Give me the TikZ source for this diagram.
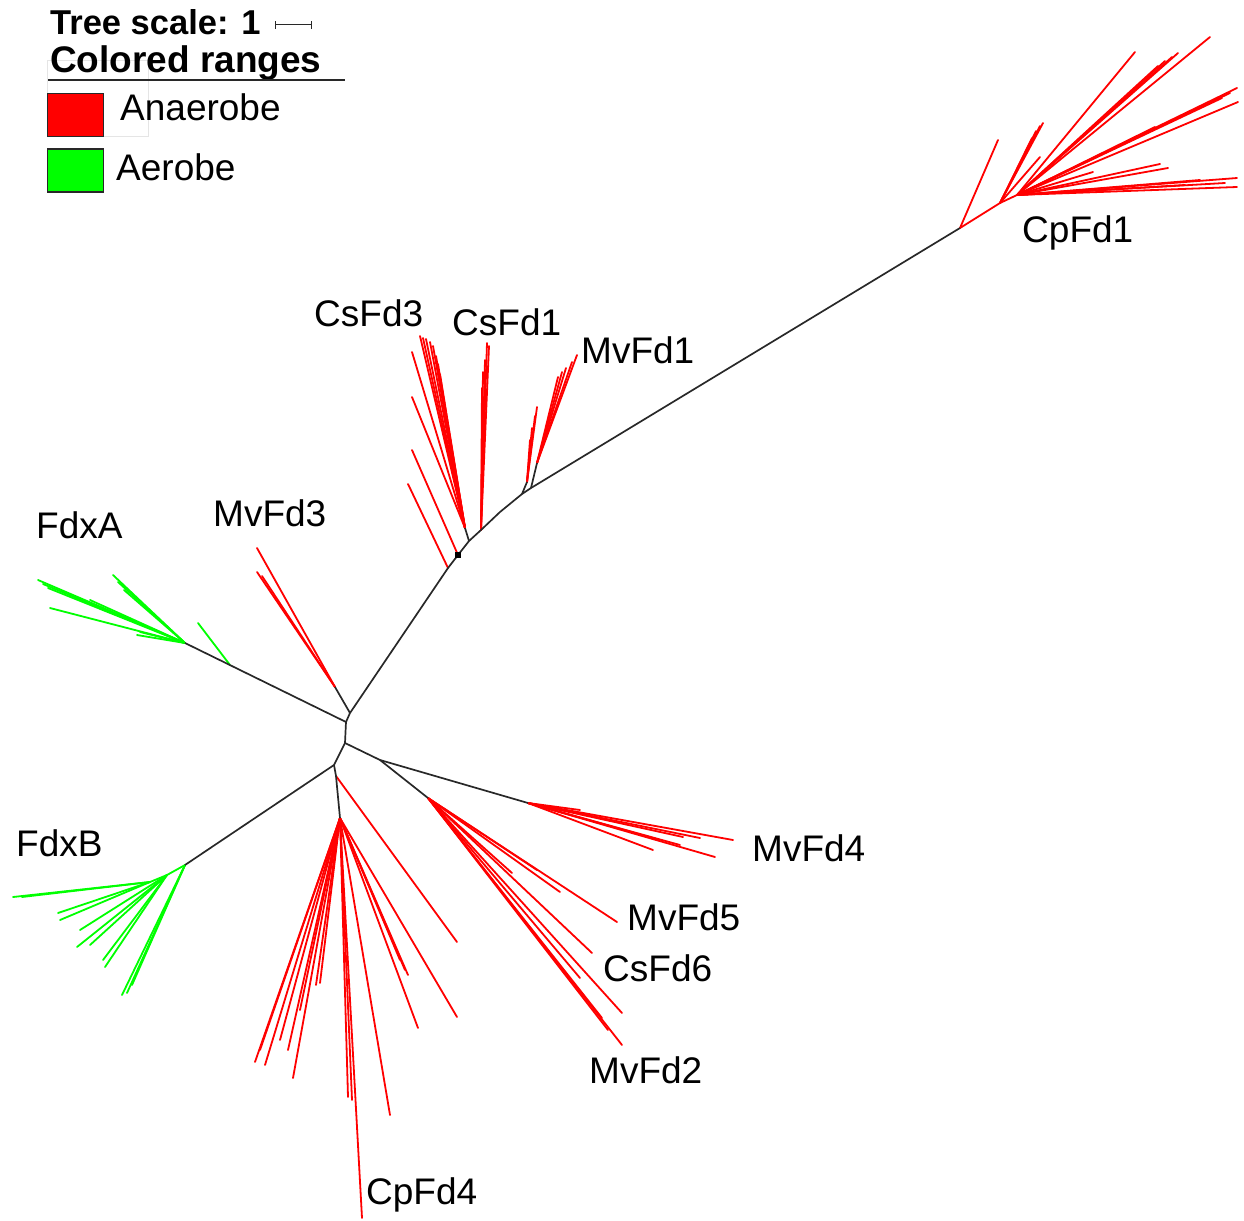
\documentclass[tikz,border=0pt]{standalone}
\usepackage{fontspec}
\setmainfont{Liberation Sans}
\usetikzlibrary{arrows}
\definecolor{anaerobe}{RGB}{255,0,0}
\definecolor{aerobe}{RGB}{0,255,0}
\definecolor{trunk}{RGB}{40,40,40}
\tikzstyle{branch} = [draw=trunk, line width=1.7pt, line join=round]
\tikzstyle{analeaf} = [draw=anaerobe, line width=1.8pt, line cap=round]
\tikzstyle{aeroleaf} = [draw=aerobe, line width=1.8pt, line cap=round]
\tikzstyle{cladelabel} = [anchor=base west, inner sep=0pt, font=\fontsize{37}{44}\selectfont]
\tikzstyle{legendtitle} = [anchor=base west, inner sep=0pt, font=\bfseries\fontsize{37}{44}\selectfont]
\tikzstyle{legendtext} = [anchor=base west, inner sep=0pt, font=\fontsize{37}{44}\selectfont]
\tikzstyle{legendbox} = [rectangle, draw=trunk, line width=1.5pt, minimum width=56pt, minimum height=43pt, inner sep=0pt]

\begin{document}
\begin{tikzpicture}[x=1pt, y=-1pt]
\useasboundingbox (0,0) rectangle (1244,1220);

% --------- Legend ----------
\draw [gray!20, line width=0.6pt] (47,60) rectangle (148,136);
\node (TSCALE) [legendtitle, font=\bfseries\fontsize{34.5}{40}\selectfont] at (50,35) {Tree scale: 1};
\coordinate (SBL) at (275,25);
\coordinate (SBR) at (312,25);
\draw [|-|, draw=trunk, line width=1pt] (SBL) -- (SBR);
\node (CRANGES) [legendtitle] at (50,73) {Colored ranges};
\coordinate (ULL) at (48,80);
\coordinate (ULR) at (345,80);
\draw [draw=trunk, line width=1.2pt] (ULL) -- (ULR);
\node (REDBOX)   [legendbox, fill=anaerobe] at (75.5,115) {};
\node (GREENBOX) [legendbox, fill=aerobe]   at (75.5,170.5) {};
\node (ANA) [legendtext] at (120,121) {Anaerobe};
\node (AER) [legendtext] at (116,180) {Aerobe};

% --------- Inner nodes ----------
\coordinate (A)  at (350,713);
\coordinate (B)  at (346,722);
\coordinate (C)  at (345,743);
\coordinate (D)  at (334,765);
% trunk towards CpFd1
\coordinate (T1) at (448,568);
\coordinate (T2) at (458,555);
\coordinate (T3) at (469,541);
\coordinate (T4) at (481,530);
\coordinate (T5) at (500,512);
\coordinate (T6) at (522,494);
\coordinate (T7) at (531,488);
\coordinate (CS3) at (465,528);
\coordinate (MV1a) at (527,482);
\coordinate (MV1b) at (537,463);
\coordinate (R1) at (960,228);
\coordinate (R2) at (1000,203);
\coordinate (R3) at (1017,195);
% other clades
\coordinate (FA)  at (185,643);
\coordinate (FA2) at (230,665);
\coordinate (M3)  at (335,687);
\coordinate (RC)  at (380,760);
\coordinate (M4)  at (528,803);
\coordinate (M5)  at (428,798);
\coordinate (FB)  at (185,865);
\coordinate (FB2) at (167,875);
\coordinate (FB3) at (150,882);
\coordinate (D2)  at (336,776);
\coordinate (CP4) at (340,818);

% --------- Red leaves (Anaerobe) ----------
\draw [analeaf] (T1) -- (408,484);
\draw [analeaf] (T2) -- (412,450);
\foreach \x/\y in {412/397, 412/352, 420/336, 423/338, 426/339, 430/342, 433/346, 436/356, 438/364, 440/374}
  \draw [analeaf] (CS3) -- (\x,\y);
\foreach \x/\y in {487/343, 489/346, 485/360, 483/372, 482/388}
  \draw [analeaf] (T4) -- (\x,\y);
\foreach \x/\y in {537/407, 535/416, 532/428, 530/440}
  \draw [analeaf] (MV1a) -- (\x,\y);
\foreach \x/\y in {577/355, 572/362, 558/377, 562/372, 566/368}
  \draw [analeaf] (MV1b) -- (\x,\y);
\draw [analeaf] (R1) -- (R2) -- (R3);
\draw [analeaf] (R1) -- (998,140);
\foreach \x/\y in {1043/123, 1040/126, 1036/131, 1032/138, 1040/157}
  \draw [analeaf] (R2) -- (\x,\y);
\foreach \x/\y in {1135/52, 1210/37, 1178/53, 1172/57, 1165/61, 1158/66, 1237/88, 1238/102, 1230/93, 1222/98, 1155/127, 1168/168, 1160/164, 1237/178, 1237/187, 1225/183, 1200/180, 1185/185, 1093/172}
  \draw [analeaf] (R3) -- (\x,\y);
\foreach \x/\y in {257/548, 257/572, 262/576}
  \draw [analeaf] (M3) -- (\x,\y);
\foreach \x/\y in {733/840, 715/857, 653/850, 683/837, 700/838, 680/845, 660/840, 580/810}
  \draw [analeaf] (M4) -- (\x,\y);
\foreach \x/\y in {617/922, 592/953, 580/978, 622/1013, 622/1045, 602/1018, 608/1030, 512/873, 537/870, 560/892}
  \draw [analeaf] (M5) -- (\x,\y);
\draw [analeaf] (D2) -- (457,942);
\foreach \x/\y in {362/1218, 255/1062, 265/1065, 260/1050, 293/1078, 288/1050, 280/1040, 300/1010, 320/983, 316/985, 390/1115, 348/1097, 352/1100, 418/1028, 457/1017, 405/970, 408/975, 400/960}
  \draw [analeaf] (CP4) -- (\x,\y);

% --------- Green leaves (Aerobe) ----------
\draw [aeroleaf] (FA2) -- (198,623);
\foreach \x/\y in {38/580, 43/584, 48/588, 50/608, 90/600, 113/575, 118/582, 124/590, 137/635, 140/632}
  \draw [aeroleaf] (FA) -- (\x,\y);
\draw [aeroleaf] (FB) -- (FB2) -- (FB3);
\foreach \x/\y in {13/897, 22/897, 58/913, 60/920}
  \draw [aeroleaf] (FB3) -- (\x,\y);
\foreach \x/\y in {77/947, 80/930, 90/945, 103/960, 105/967}
  \draw [aeroleaf] (FB2) -- (\x,\y);
\foreach \x/\y in {122/995, 127/993, 132/985}
  \draw [aeroleaf] (FB) -- (\x,\y);

% --------- Black branches ----------
\draw [branch] (A) -- (T1) -- (T2) -- (T3) -- (T4) -- (T5) -- (T6) -- (T7) -- (R1);
\draw [branch] (T3) -- (CS3);
\draw [branch] (T6) -- (MV1a);
\draw [branch] (T7) -- (MV1b);
\draw [branch] (A) -- (M3);
\draw [branch] (A) -- (B) -- (C) -- (D);
\draw [branch] (B) -- (FA);
\draw [branch] (C) -- (RC) -- (M4);
\draw [branch] (RC) -- (M5);
\draw [branch] (D) -- (FB);
\draw [branch] (D) -- (D2) -- (CP4);
\node (SQ) [fill=black, minimum size=6pt, inner sep=0pt] at (T2) {};

% --------- Clade labels ----------
\node (CPFD1) [cladelabel] at (1022,242)  {CpFd1};
\node (CSFD3) [cladelabel] at (314,326)   {CsFd3};
\node (CSFD1) [cladelabel] at (452,335)   {CsFd1};
\node (MVFD1) [cladelabel] at (581,363)   {MvFd1};
\node (FDXA)  [cladelabel] at (36,538)    {FdxA};
\node (MVFD3) [cladelabel] at (213,526)   {MvFd3};
\node (FDXB)  [cladelabel] at (16,856)    {FdxB};
\node (MVFD4) [cladelabel] at (752,861)   {MvFd4};
\node (MVFD5) [cladelabel] at (627,930)   {MvFd5};
\node (CSFD6) [cladelabel] at (603,981)   {CsFd6};
\node (MVFD2) [cladelabel] at (589,1083)  {MvFd2};
\node (CPFD4) [cladelabel] at (366,1204)  {CpFd4};

\end{tikzpicture}
\end{document}
